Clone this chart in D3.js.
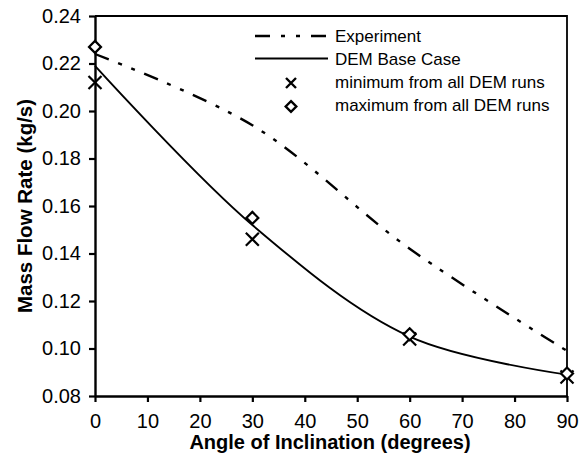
<!DOCTYPE html>
<html>
<head>
<meta charset="utf-8">
<script src="https://cdn.jsdelivr.net/npm/d3@7"></script>
<style>
  body { margin: 0; background: #fff; }
  svg { font-family: "Liberation Sans", Arial, sans-serif; }
</style>
</head>
<body>
<script>
const w = 582;
const h = 461;

// angles (degrees)
const angles = [0, 30, 60, 90];
// mass flow rates (kg/s)
const experiment = [0.224, 0.194, 0.142, 0.099];
const demBase = [0.219, 0.152, 0.105, 0.089];
const demMin = [0.212, 0.146, 0.104, 0.088];
const demMax = [0.227, 0.155, 0.106, 0.0895];

const xTicks = [0, 10, 20, 30, 40, 50, 60, 70, 80, 90];
const yTicks = [0.08, 0.1, 0.12, 0.14, 0.16, 0.18, 0.2, 0.22, 0.24];

const legendLabels = [
  "Experiment",
  "DEM Base Case",
  "minimum from all DEM runs",
  "maximum from all DEM runs",
];

const dashDot = "15,10,4,10,4,10";

const svg = d3
  .select("body")
  .append("svg")
  .attr("width", w)
  .attr("height", h);

svg.append("rect").attr("width", w).attr("height", h).attr("fill", "#fff");

const xScale = d3.scaleLinear().domain([0, 90]).range([95, 567]);
const yScale = d3.scaleLinear().domain([0.08, 0.24]).range([396, 16]);

// frame (top and right)
svg
  .append("path")
  .attr("d", `M${xScale(0)},${yScale(0.24)}H${xScale(90)}V${yScale(0.08)}`)
  .attr("fill", "none")
  .attr("stroke", "#000")
  .attr("stroke-width", 1.8);

const xAxis = d3
  .axisBottom(xScale)
  .tickValues(xTicks)
  .tickFormat(d3.format("d"))
  .tickSizeInner(6)
  .tickSizeOuter(0)
  .tickPadding(12);

const yAxis = d3
  .axisLeft(yScale)
  .tickValues(yTicks)
  .tickFormat(d3.format(".2f"))
  .tickSizeInner(6)
  .tickSizeOuter(0)
  .tickPadding(8);

const gx = svg
  .append("g")
  .attr("transform", `translate(0,${yScale(0.08)})`)
  .call(xAxis);

const gy = svg
  .append("g")
  .attr("transform", `translate(${xScale(0)},0)`)
  .call(yAxis);

[gx, gy].forEach((g) => {
  g.attr("font-family", null).attr("font-size", 20);
  g.selectAll("text").attr("fill", "#000");
  g.select(".domain").attr("stroke", "#000").attr("stroke-width", 2.4);
  g.selectAll(".tick line").attr("stroke", "#000").attr("stroke-width", 2.2);
});

// axis titles
svg
  .append("text")
  .attr("x", 330)
  .attr("y", 449)
  .attr("text-anchor", "middle")
  .attr("font-weight", "bold")
  .attr("font-size", 20)
  .text("Angle of Inclination (degrees)");

svg
  .append("text")
  .attr("transform", "translate(32,206) rotate(-90)")
  .attr("text-anchor", "middle")
  .attr("font-weight", "bold")
  .attr("font-size", 20.5)
  .text("Mass Flow Rate (kg/s)");

// lines
const line = (vals) =>
  d3
    .line()
    .x((d, i) => xScale(angles[i]))
    .y((d) => yScale(d))
    .curve(d3.curveCatmullRom.alpha(0.5))(vals);

svg
  .append("path")
  .attr("d", line(experiment))
  .attr("fill", "none")
  .attr("stroke", "#000")
  .attr("stroke-width", 2.4)
  .attr("stroke-dasharray", dashDot);

svg
  .append("path")
  .attr("d", line(demBase))
  .attr("fill", "none")
  .attr("stroke", "#000")
  .attr("stroke-width", 1.9);

// markers
const cross = (s) => `M${-s},${-s}L${s},${s}M${-s},${s}L${s},${-s}`;
const diamond = (s) => `M0,${-s}L${s},0L0,${s}L${-s},0Z`;

svg
  .selectAll(".min")
  .data(demMin)
  .enter()
  .append("path")
  .attr("class", "min")
  .attr("transform", (d, i) => `translate(${xScale(angles[i])},${yScale(d)})`)
  .attr("d", cross(6.5))
  .attr("fill", "none")
  .attr("stroke", "#000")
  .attr("stroke-width", 2.2);

svg
  .selectAll(".max")
  .data(demMax)
  .enter()
  .append("path")
  .attr("class", "max")
  .attr("transform", (d, i) => `translate(${xScale(angles[i])},${yScale(d)})`)
  .attr("d", diamond(6))
  .attr("fill", "#fff")
  .attr("stroke", "#000")
  .attr("stroke-width", 2.2);

// legend
const legend = svg.append("g").attr("font-size", 17);
const rowY = [36, 58.5, 82, 105];

legend
  .append("line")
  .attr("x1", 255)
  .attr("x2", 328)
  .attr("y1", rowY[0])
  .attr("y2", rowY[0])
  .attr("stroke", "#000")
  .attr("stroke-width", 2.4)
  .attr("stroke-dasharray", "15,11,4,11,4,11");

legend
  .append("line")
  .attr("x1", 255)
  .attr("x2", 328)
  .attr("y1", rowY[1])
  .attr("y2", rowY[1])
  .attr("stroke", "#000")
  .attr("stroke-width", 1.9);

legend
  .append("path")
  .attr("transform", `translate(291,${rowY[2] + 1})`)
  .attr("d", cross(5))
  .attr("fill", "none")
  .attr("stroke", "#000")
  .attr("stroke-width", 2.4);

legend
  .append("path")
  .attr("transform", `translate(291,${rowY[3] + 1.5})`)
  .attr("d", diamond(5.3))
  .attr("fill", "#fff")
  .attr("stroke", "#000")
  .attr("stroke-width", 2.4);

legend
  .selectAll("text")
  .data(legendLabels)
  .enter()
  .append("text")
  .attr("x", 335)
  .attr("y", (d, i) => rowY[i] + 6)
  .text((d) => d);
</script>
</body>
</html>
